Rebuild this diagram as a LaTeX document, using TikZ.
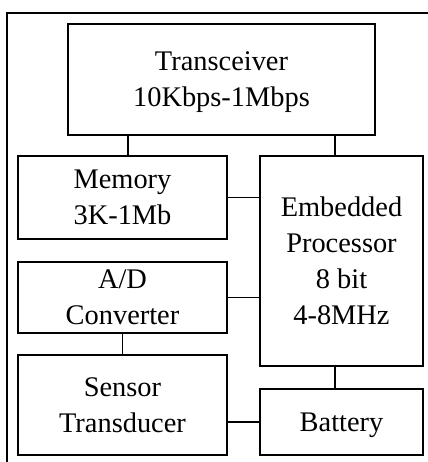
\documentclass[tikz,border=0pt]{standalone}
\usepackage{fontspec}
\setmainfont{Liberation Serif}
\begin{document}
\begin{tikzpicture}[x=0.5pt,y=-0.5pt,
  block/.style={draw, line width=0.9pt, align=center, inner sep=0pt,
    text depth=0pt, font=\fontsize{14.2pt}{18pt}\selectfont},
  link/.style={line width=0.9pt},
  frame/.style={line width=0.8pt}]
\useasboundingbox (0,0) rectangle (428,462);
% outer frame, open to the right and bottom
\draw[frame] (7,462) -- (7,13) -- (428,13);
% blocks
\node[block, minimum width=153.5pt, minimum height=55.5pt] (tr) at (221.5,79.5) {Transceiver\\10Kbps-1Mbps};
\node[block, minimum width=104.5pt, minimum height=41.5pt] (mem) at (122.5,197.5) {Memory\\3K-1Mb};
\node[block, minimum width=81.5pt, minimum height=105pt] (cpu) at (341.5,261) {Embedded\\Processor\\8 bit\\4-8MHz};
\node[block, minimum width=104.5pt, minimum height=35.5pt] (adc) at (122.5,297.5) {A/D\\Converter};
\node[block, minimum width=104.5pt, minimum height=50pt] (sen) at (122.5,405) {Sensor\\Transducer};
\node[block, minimum width=81.5pt, minimum height=33pt] (bat) at (341.5,422) {Battery};
% connections
\coordinate (tm) at (128,0);
\coordinate (tp) at (335,0);
\draw[link] (tm |- tr.south) -- (tm |- mem.north);
\draw[link] (tp |- tr.south) -- (tp |- cpu.north);
\draw[link] (mem.east) -- (mem.east -| cpu.west);
\draw[link] (adc.east) -- (adc.east -| cpu.west);
\draw[link] (adc.south) -- (sen.north);
\draw[link] (tp |- cpu.south) -- (tp |- bat.north);
\draw[link] (bat.west) -- (bat.west -| sen.east);
\end{tikzpicture}
\end{document}
